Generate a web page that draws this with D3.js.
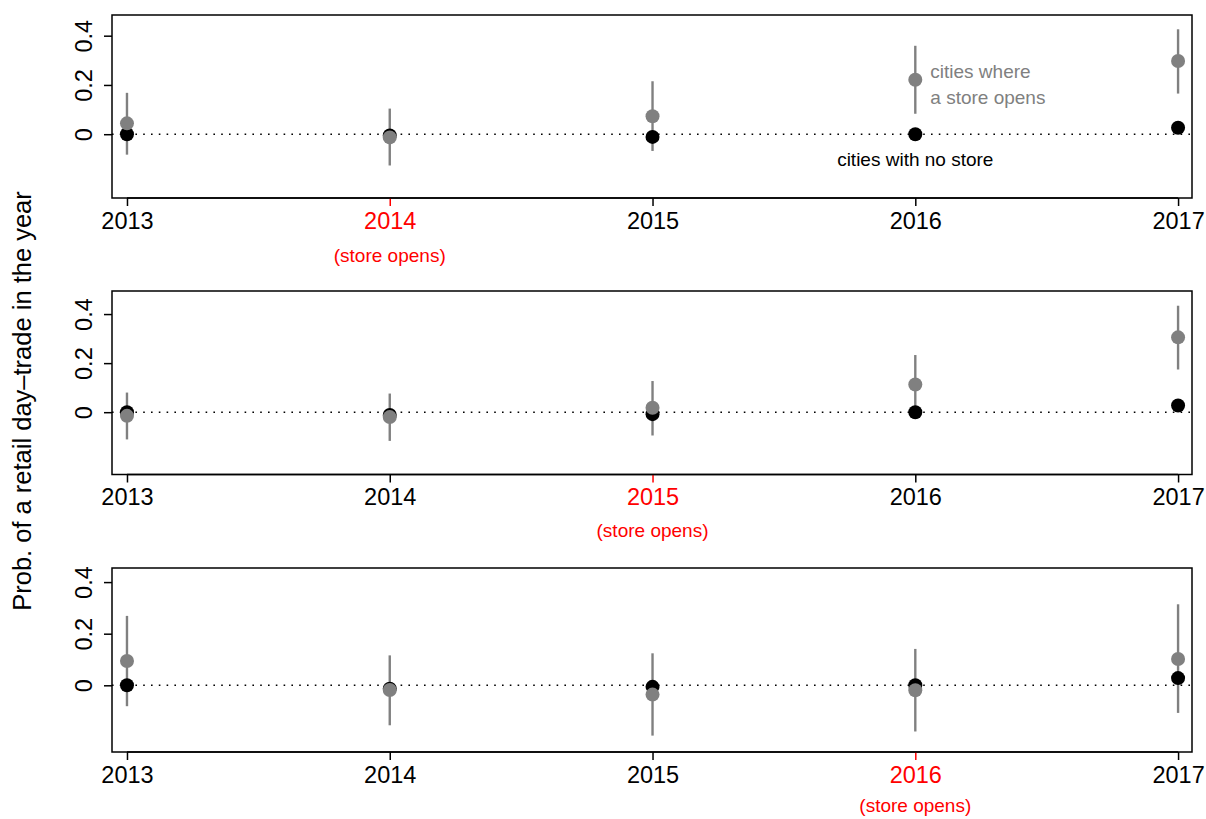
<!DOCTYPE html>
<html>
<head>
<meta charset="utf-8">
<script src="https://cdn.jsdelivr.net/npm/d3@7"></script>
<style>
  html, body { margin: 0; padding: 0; background: #ffffff; }
  svg { display: block; font-family: "Liberation Sans", Arial, Helvetica, sans-serif; }
</style>
</head>
<body>
<svg id="chart" width="1206" height="819"></svg>
<script>
// ---------- data ----------
const years = [2013, 2014, 2015, 2016, 2017];
const yTicks = [0, 0.2, 0.4];
const yTickLabels = ["0", "0.2", "0.4"];
const openYears = [2014, 2015, 2016];

// Panel: store opens in 2014
const store2014 = [0.044, -0.013, 0.073, 0.221, 0.297];
const storeLo2014 = [-0.083, -0.127, -0.068, 0.083, 0.165];
const storeHi2014 = [0.168, 0.104, 0.215, 0.359, 0.426];
const noStore2014 = [0.000, -0.005, -0.011, 0.000, 0.026];

// Panel: store opens in 2015
const store2015 = [-0.015, -0.020, 0.018, 0.113, 0.305];
const storeLo2015 = [-0.111, -0.117, -0.095, 0.000, 0.174];
const storeHi2015 = [0.080, 0.076, 0.127, 0.233, 0.434];
const noStore2015 = [0.000, -0.011, -0.008, 0.000, 0.027];

// Panel: store opens in 2016
const store2016 = [0.094, -0.018, -0.036, -0.019, 0.102];
const storeLo2016 = [-0.081, -0.155, -0.195, -0.179, -0.107];
const storeHi2016 = [0.269, 0.116, 0.124, 0.141, 0.314];
const noStore2016 = [0.000, -0.013, -0.006, 0.000, 0.028];

const yTitle = "Prob. of a retail day\u2013trade in the year";
const openLabel = "(store opens)";
const legendStore = ["cities where", "a store opens"];
const legendNone = "cities with no store";

// ---------- layout ----------
const GRAY = "#808080";
const RED = "#ff0000";
const panels = [
  { open: openYears[0], est: store2014, lo: storeLo2014, hi: storeHi2014, none: noStore2014,
    top: 15, bottom: 198, dom: [-0.259, 0.484], legend: true, noteY: 64 },
  { open: openYears[1], est: store2015, lo: storeLo2015, hi: storeHi2015, none: noStore2015,
    top: 291, bottom: 474.5, dom: [-0.254, 0.494], legend: false, noteY: 62 },
  { open: openYears[2], est: store2016, lo: storeLo2016, hi: storeHi2016, none: noStore2016,
    top: 568, bottom: 752, dom: [-0.2585, 0.4546], legend: false, noteY: 60 }
];
const left = 112, right = 1192;

const svg = d3.select("#chart");
svg.append("rect").attr("width", 1206).attr("height", 819).attr("fill", "#fff");

const x = d3.scaleLinear().domain([2012.943, 2017.053]).range([left, right]);

panels.forEach(p => {
  const y = d3.scaleLinear().domain(p.dom).range([p.bottom, p.top]);
  const g = svg.append("g");

  // zero reference line
  g.append("line")
    .attr("x1", left).attr("x2", right)
    .attr("y1", y(0)).attr("y2", y(0))
    .attr("stroke", "#000").attr("stroke-width", 1.6)
    .attr("stroke-dasharray", "1.6,6.2");

  // x axis
  const xAxis = d3.axisBottom(x).tickValues(years).tickFormat(d3.format("d"))
    .tickSize(8).tickSizeOuter(0).tickPadding(6);
  const xa = g.append("g").attr("transform", `translate(0,${p.bottom})`).call(xAxis);
  xa.select(".domain").attr("d", `M${x(years[0])},0H${x(years[years.length - 1])}`)
    .attr("stroke", "#000").attr("stroke-width", 1.5);
  xa.selectAll(".tick line").attr("stroke-width", 1.5)
    .attr("stroke", d => d === p.open ? RED : "#000");
  xa.selectAll(".tick text")
    .attr("font-size", 23.5)
    .attr("font-family", "Liberation Sans, Arial, sans-serif")
    .attr("fill", d => d === p.open ? RED : "#000")
    .attr("dy", "0.71em");
  xa.append("text")
    .attr("x", x(p.open)).attr("y", p.noteY)
    .attr("text-anchor", "middle")
    .attr("font-size", 19)
    .attr("fill", RED)
    .text(openLabel);

  // y axis
  const yAxis = d3.axisLeft(y).tickValues(yTicks)
    .tickFormat((d, i) => yTickLabels[i]).tickSize(8).tickSizeOuter(0).tickPadding(0);
  const ya = g.append("g").attr("transform", `translate(${left},0)`).call(yAxis);
  ya.select(".domain").remove();
  ya.selectAll(".tick line").attr("stroke", "#000").attr("stroke-width", 1.5);
  ya.selectAll(".tick text")
    .attr("font-size", 23.5)
    .attr("fill", "#000")
    .attr("text-anchor", "middle")
    .attr("x", null).attr("dy", null)
    .attr("transform", "translate(-20,0) rotate(-90)");

  // box
  g.append("rect")
    .attr("x", left).attr("y", p.top)
    .attr("width", right - left).attr("height", p.bottom - p.top)
    .attr("fill", "none").attr("stroke", "#000").attr("stroke-width", 1.5);

  // confidence intervals (store cities)
  g.selectAll(".ci").data(years).join("line")
    .attr("x1", d => x(d)).attr("x2", d => x(d))
    .attr("y1", (d, i) => y(p.lo[i])).attr("y2", (d, i) => y(p.hi[i]))
    .attr("stroke", GRAY).attr("stroke-width", 2.4);

  // no-store points
  g.selectAll(".none").data(years).join("circle")
    .attr("cx", d => x(d)).attr("cy", (d, i) => y(p.none[i]))
    .attr("r", 7).attr("fill", "#000");

  // store points
  g.selectAll(".est").data(years).join("circle")
    .attr("cx", d => x(d)).attr("cy", (d, i) => y(p.est[i]))
    .attr("r", 7).attr("fill", GRAY);

  if (p.legend) {
    const lt = g.append("text").attr("font-size", 19).attr("fill", GRAY);
    legendStore.forEach((s, i) => {
      lt.append("tspan").attr("x", x(2016) + 15).attr("y", y(0.25) + 5 + i * 26).text(s);
    });
    g.append("text")
      .attr("x", x(2016)).attr("y", y(-0.09) + 10)
      .attr("text-anchor", "middle")
      .attr("font-size", 19).attr("fill", "#000")
      .text(legendNone);
  }
});

// y title
svg.append("text")
  .attr("transform", "translate(31,401) rotate(-90)")
  .attr("text-anchor", "middle")
  .attr("font-size", 25.5)
  .attr("fill", "#000")
  .text(yTitle);
</script>
</body>
</html>
